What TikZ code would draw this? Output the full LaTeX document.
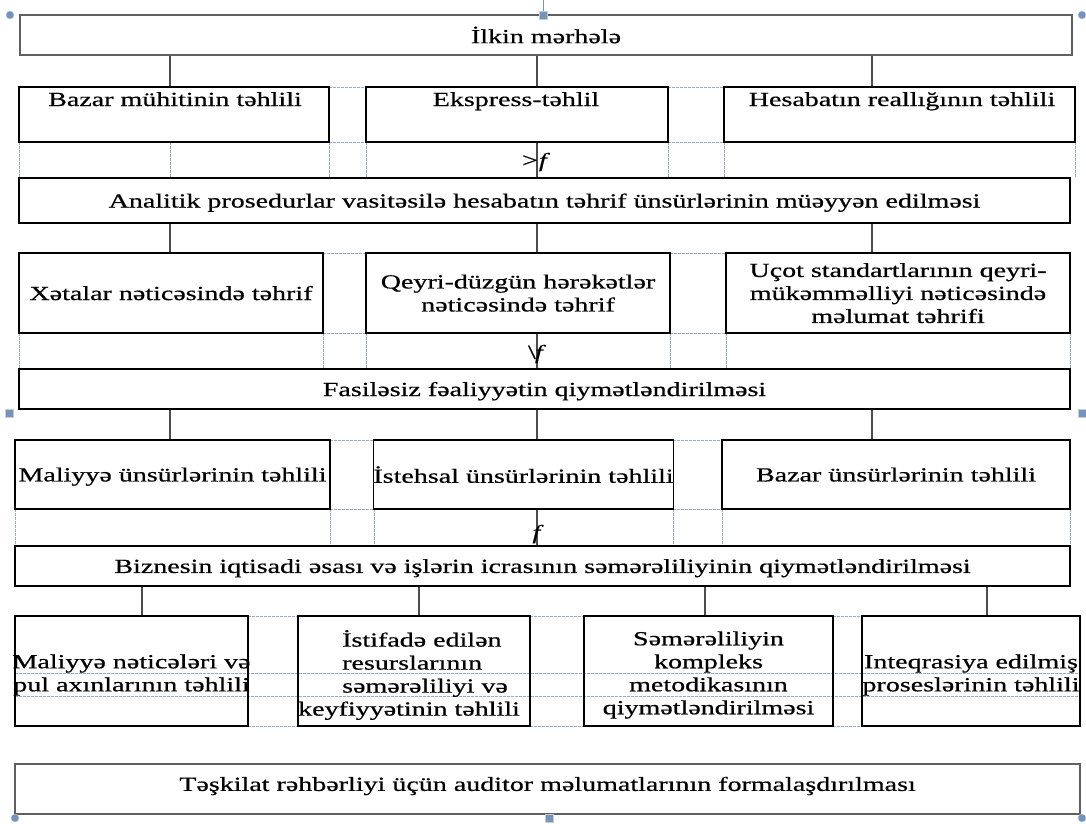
\documentclass[tikz,border=0pt]{standalone}
\usepackage{fontspec}
\setmainfont[FakeStretch=1.40,FakeBold=0.6]{Liberation Serif}
\usetikzlibrary{calc}
\definecolor{gridc}{rgb}{0.58,0.68,0.82}
\definecolor{handc}{rgb}{0.45,0.58,0.75}
\definecolor{connc}{rgb}{0.3,0.3,0.3}
\begin{document}
\begin{tikzpicture}[x=1pt,y=-1pt,
  sz/.style 2 args={minimum width=#1pt, minimum height=#2pt},
  box/.style={draw=black, line width=1.1pt, inner sep=0pt, align=center, text depth=0pt, font=\fontsize{20}{23}\selectfont},
  bigbox/.style={draw=gray!75!black, line width=2.2pt, inner sep=0pt},
  connline/.style={draw=connc, line width=1.3pt},
  gridl/.style={draw=gridc, line width=0.7pt, dash pattern=on 2.5pt off 1.5pt},
  txt/.style={inner sep=0pt, align=center, font=\fontsize{20}{23}\selectfont},
  fmark/.style={inner sep=0pt, font=\fontsize{20}{23}\selectfont},
  hcirc/.style={circle, fill=handc, draw=gray!40, minimum size=8pt, inner sep=0pt},
  hsq/.style={rectangle, fill=handc, draw=gray!40, minimum size=8pt, inner sep=0pt},
]
\useasboundingbox (0,0) rectangle (1086,823);

% ---------- table gridlines ----------
\draw[gridl] (329,87)--(366,87) (668,87)--(724,87) (329,142)--(366,142) (668,142)--(724,142);
\foreach \x in {19,170,329,366,668,724,1075} \draw[gridl] (\x,142)--(\x,178);
\draw[gridl] (323,253)--(366,253) (670,253)--(726,253) (323,333)--(366,333) (670,333)--(726,333);
\foreach \x in {19,323,366,670,726,1070} \draw[gridl] (\x,333)--(\x,369);
\draw[gridl] (330,440)--(374,440) (673,440)--(722,440) (330,509)--(374,509) (673,509)--(722,509);
\foreach \x in {15,330,374,673,722,1070} \draw[gridl] (\x,509)--(\x,546);
\draw[gridl] (248,616)--(298,616) (530,616)--(584,616) (833,616)--(862,616);
\draw[gridl] (248,726)--(298,726) (530,726)--(584,726) (833,726)--(862,726);
\draw[gridl] (15,673)--(1080,673) (15,696)--(1080,696);

% ---------- boxes ----------
\node[bigbox, sz={1052}{40}] (top) at (546,35) {};
\node[txt] (toptxt) at (546,35) {İlkin mərhələ};

\node[box, sz={310}{55}] (r1a) at (174,114.5) {};
\node[box, sz={302}{55}] (r1b) at (517,114.5) {};
\node[box, sz={351}{55}] (r1c) at (899.5,114.5) {};
\node[txt, anchor=base] (t1a) at (175,106) {Bazar mühitinin təhlili};
\node[txt, anchor=base] (t1b) at (516,106) {Ekspress-təhlil};
\node[txt, anchor=base] (t1c) at (902,106) {Hesabatın reallığının təhlili};

\node[box, sz={1051}{45}] (an) at (544.5,200.5) {Analitik prosedurlar vasitəsilə hesabatın təhrif ünsürlərinin müəyyən edilməsi};

\node[box, sz={304}{80}] (r2a) at (171,293) {Xətalar nəticəsində təhrif};
\node[box, sz={304}{80}] (r2b) at (518,293) {Qeyri-düzgün hərəkətlər\\nəticəsində təhrif};
\node[box, sz={344}{80}] (r2c) at (898,293) {Uçot standartlarının qeyri-\\mükəmməlliyi nəticəsində\\məlumat təhrifi};

\node[box, sz={1051}{40}] (fas) at (544.5,389) {Fasiləsiz fəaliyyətin qiymətləndirilməsi};

\node[box, sz={315}{69}] (r3a) at (172.5,474.5) {Maliyyə ünsürlərinin təhlili};
\node[box, sz={299}{69}] (r3b) at (523.5,474.5) {İstehsal ünsürlərinin təhlili};
\node[box, sz={348}{69}] (r3c) at (896,474.5) {Bazar ünsürlərinin təhlili};

\node[box, sz={1055}{40}] (biz) at (542.5,566) {Biznesin iqtisadi əsası və işlərin icrasının səmərəliliyinin qiymətləndirilməsi};

\node[box, sz={233}{110}] (r4a) at (131.5,671) {};
\node[box, sz={232}{110}] (r4b) at (414,671) {};
\node[box, sz={249}{110}] (r4c) at (708.5,671) {};
\node[box, sz={218}{110}] (r4d) at (971,671) {};
\node[txt] (t4a) at (131.5,675) {Maliyyə nəticələri və\\pul axınlarının təhlili};
\node[txt, align=left, anchor=west] (t4b) at (298,675) {\hspace*{44pt}İstifadə edilən\\\hspace*{44pt}resurslarının\\\hspace*{44pt}səmərəliliyi və\\keyfiyyətinin təhlili};
\node[txt] (t4c) at (708.5,675) {Səmərəliliyin\\kompleks\\metodikasının\\qiymətləndirilməsi};
\node[txt] (t4d) at (971,675) {Inteqrasiya edilmiş\\proseslərinin təhlili};

\node[bigbox, sz={1065}{50}] (bot) at (547.5,789) {};
\node[txt] (bottxt) at (547.5,786) {Təşkilat rəhbərliyi üçün auditor məlumatlarının formalaşdırılması};

% ---------- connectors ----------
\coordinate (k1) at (170,0);
\coordinate (k2) at (537,0);
\coordinate (k3) at (872,0);
\coordinate (m1) at (142,0);
\coordinate (m2) at (419,0);
\coordinate (m3) at (705,0);
\coordinate (m4) at (987,0);

\draw[connline] (top.south -| k1) -- (r1a.north -| k1);
\draw[connline] (top.south -| k2) -- (r1b.north -| k2);
\draw[connline] (top.south -| k3) -- (r1c.north -| k3);
\draw[connline] (r1b.south -| k2) -- (an.north -| k2);
\draw[connline] (an.south -| k1) -- (r2a.north -| k1);
\draw[connline] (an.south -| k2) -- (r2b.north -| k2);
\draw[connline] (an.south -| k3) -- (r2c.north -| k3);
\draw[connline] (r2b.south -| k2) -- (fas.north -| k2);
\draw[connline] (fas.south -| k1) -- (r3a.north -| k1);
\draw[connline] (fas.south -| k2) -- (r3b.north -| k2);
\draw[connline] (fas.south -| k3) -- (r3c.north -| k3);
\draw[connline] (r3b.south -| k2) -- (biz.north -| k2);
\draw[connline] (biz.south -| m1) -- (r4a.north -| m1);
\draw[connline] (biz.south -| m2) -- (r4b.north -| m2);
\draw[connline] (biz.south -| m3) -- (r4c.north -| m3);
\draw[connline] (biz.south -| m4) -- (r4d.north -| m4);

% ---------- stray glyphs on the connectors ----------
\node[fmark] (g1) at (536,162) {>\kern1pt\textit{f}};
\node[fmark] (g2) at (537,354) {\textbackslash\kern-1pt\textit{f}};
\node[fmark] (g3) at (538,534) {\textit{f}};

% ---------- selection handles ----------
\draw[draw=handc, line width=0.8pt] (543,0) -- (543,11);
\node[hcirc] (h1) at (10,15) {};
\node[hsq] (h2) at (543,15) {};
\node[hcirc] (h3) at (1082,15) {};
\node[hsq] (h4) at (9,413) {};
\node[hsq] (h5) at (1082,413) {};
\node[hcirc] (h6) at (15,818) {};
\node[hsq] (h7) at (549,818) {};
\node[hcirc] (h8) at (1082,818) {};
\end{tikzpicture}
\end{document}
